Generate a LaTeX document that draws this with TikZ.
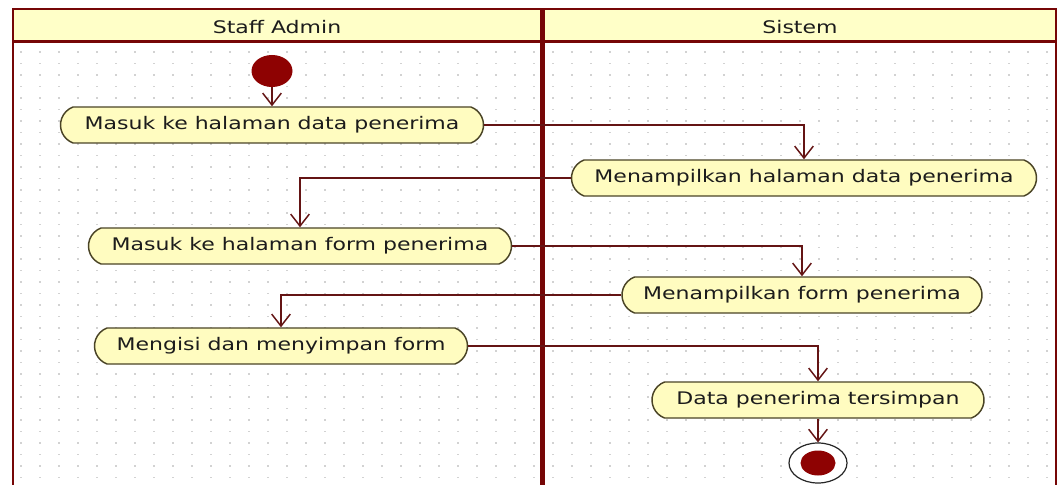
\documentclass[tikz,border=0pt]{standalone}
\usepackage{fontspec}
\setmainfont[FakeStretch=1.27]{DejaVu Sans}
\usetikzlibrary{shapes.misc,shapes.geometric,arrows.meta}

\definecolor{headfill}{HTML}{FFFFC8}
\definecolor{actfill}{HTML}{FFFCC0}
\definecolor{actline}{HTML}{4A4426}
\definecolor{laneline}{HTML}{760606}
\definecolor{flowline}{HTML}{641414}
\definecolor{startred}{HTML}{8E0202}
\definecolor{gridgray}{HTML}{D2D2D2}
\definecolor{inktext}{HTML}{1C1C1C}

\tikzset{
  lbl/.style={font=\fontsize{13}{15}\selectfont, text=inktext},
  activity/.style={rounded rectangle, rounded rectangle arc length=140,
    draw=actline, fill=actfill, line width=1.1pt, minimum height=27pt,
    inner sep=0pt, lbl},
  flow/.style={draw=flowline, line width=1.1pt,
    -{Straight Barb[length=9pt,width=14pt]}},
  lane/.style={draw=laneline, line width=1.5pt},
  dotrow/.style={draw=gridgray, line width=1.2pt, dash pattern=on 1.2pt off 13.05pt}
}

\begin{document}
\begin{tikzpicture}[x=0.75pt,y=-0.75pt]
\useasboundingbox (0,0) rectangle (1058,485);
\fill[white] (0,0) rectangle (1058,485);

% dotted drawing grid inside the swimlanes
\foreach \yy in {52,63.5,...,485} {
  \draw[dotrow] (20,\yy) -- (1050,\yy);
}

% swimlane headers
\fill[headfill] (13,9) rectangle (1056,42);
\node[lbl] (hstaff) at (277,27) {Staff Admin};
\node[lbl] (hsys) at (800,27) {Sistem};

% swimlane frame
\draw[lane] (13,485) -- (13,9) -- (1056,9) -- (1056,485);
\draw[draw=laneline, line width=2.25pt] (13,42) -- (1056,42);
\draw[draw=laneline, line width=3.75pt] (542,9) -- (542,485);

% initial node
\node[ellipse, fill=startred, minimum width=30.75pt, minimum height=24pt,
      inner sep=0pt] (start) at (272,71) {};

% activities
\node[activity, minimum width=317.25pt] (a1) at (272,125) {Masuk ke halaman data penerima};
\node[activity, minimum width=348.75pt] (a2) at (804,178) {Menampilkan halaman data penerima};
\node[activity, minimum width=317.25pt] (a3) at (300,246) {Masuk ke halaman form penerima};
\node[activity, minimum width=270pt]    (a4) at (802,295) {Menampilkan form penerima};
\node[activity, minimum width=279.75pt] (a5) at (281,346) {Mengisi dan menyimpan form};
\node[activity, minimum width=249pt]    (a6) at (818,400) {Data penerima tersimpan};

% final node
\node[ellipse, draw=black!85, line width=0.9pt, fill=white,
      minimum width=43.5pt, minimum height=30pt, inner sep=0pt] (end) at (818,463) {};
\node[ellipse, fill=startred, minimum width=26.25pt, minimum height=18.75pt,
      inner sep=0pt] (endcore) at (end.center) {};

% control flows
\draw[flow] (start) -- (a1.north);
\draw[flow] (a1.east) -| (a2.north);
\draw[flow] (a2.west) -| (a3.north);
\draw[flow] (a3.east) -| (a4.north);
\draw[flow] (a4.west) -| (a5.north);
\draw[flow] (a5.east) -| (a6.north);
\draw[flow] (a6.south) -- (end.north);
\end{tikzpicture}
\end{document}
